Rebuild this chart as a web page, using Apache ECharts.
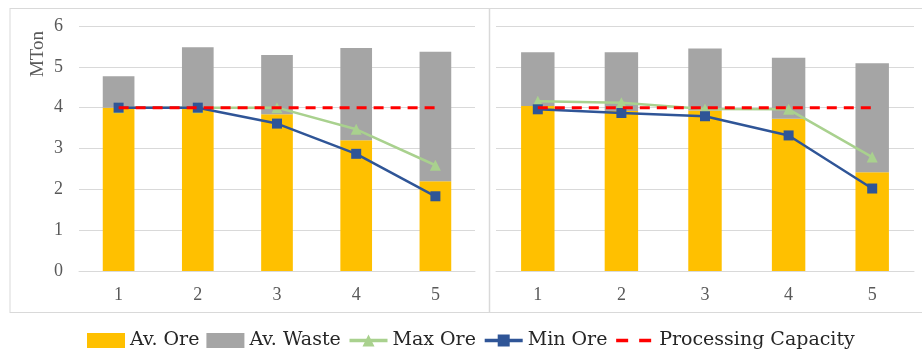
<!DOCTYPE html>
<html>
<head>
<meta charset="utf-8">
<script src="https://cdn.jsdelivr.net/npm/echarts@6/dist/echarts.min.js"></script>
<style>html,body{margin:0;padding:0;background:#fff}#c{width:922px;height:354px}</style>
</head>
<body>
<div id="c"></div>
<script>
var categories = ['1', '2', '3', '4', '5'];
var yTicks = [0, 1, 2, 3, 4, 5, 6];
var leftOre = [4.0, 4.0, 3.84, 3.2, 2.2];
var leftWaste = [0.77, 1.48, 1.45, 2.26, 3.17];
var leftMax = [4.0, 4.0, 4.0, 3.47, 2.59];
var leftMin = [4.0, 4.0, 3.61, 2.87, 1.83];
var leftCapacity = [4, 4, 4, 4, 4];
var rightOre = [4.04, 3.92, 3.93, 3.73, 2.42];
var rightWaste = [1.32, 1.44, 1.52, 1.49, 2.67];
var rightMax = [4.16, 4.12, 3.97, 3.96, 2.79];
var rightMin = [3.96, 3.87, 3.79, 3.32, 2.02];
var rightCapacity = [4, 4, 4, 4, 4];
var legendNames = ['Av. Ore', 'Av. Waste', 'Max Ore', 'Min Ore', 'Processing Capacity'];

var FONT = '"Liberation Serif", "Times New Roman", serif';
var LFONT = '"DejaVu Serif", serif';
var GRID = '#d9d9d9';
var C_ORE = '#FFC000', C_WASTE = '#A5A5A5', C_MAX = '#A9D18E', C_MIN = '#2F5597', C_CAP = '#FF0000';

function xAx(i) {
  return {
    type: 'category', gridIndex: i, data: categories,
    axisLine: { show: true, lineStyle: { color: GRID, width: 1 } },
    axisTick: { show: false },
    axisLabel: { color: '#595959', fontFamily: FONT, fontSize: 18, margin: 15 }
  };
}
function yAx(i, showLabel) {
  return {
    type: 'value', gridIndex: i, min: 0, max: 6, interval: 1,
    axisLine: { show: false }, axisTick: { show: false },
    axisLabel: { show: showLabel, color: '#595959', fontFamily: FONT, fontSize: 18, margin: 16,
      formatter: function (v) { return yTicks.indexOf(v) >= 0 ? String(v) : ''; } },
    splitLine: { lineStyle: { color: GRID, width: 1 } }
  };
}
function seriesFor(i, ore, waste, mx, mn, cap) {
  return [
    { name: 'Av. Ore', type: 'bar', stack: 's' + i, xAxisIndex: i, yAxisIndex: i, data: ore, barWidth: '40%', itemStyle: { color: C_ORE } },
    { name: 'Av. Waste', type: 'bar', stack: 's' + i, xAxisIndex: i, yAxisIndex: i, data: waste, barWidth: '40%', itemStyle: { color: C_WASTE } },
    { name: 'Max Ore', type: 'line', xAxisIndex: i, yAxisIndex: i, data: mx, symbol: 'triangle', symbolSize: 11, showSymbol: true,
      lineStyle: { color: C_MAX, width: 2.5 }, itemStyle: { color: C_MAX }, z: 3 },
    { name: 'Min Ore', type: 'line', xAxisIndex: i, yAxisIndex: i, data: mn, symbol: 'rect', symbolSize: 10,
      lineStyle: { color: C_MIN, width: 2.5 }, itemStyle: { color: C_MIN }, z: 4 },
    { name: 'Processing Capacity', type: 'line', xAxisIndex: i, yAxisIndex: i, data: cap, symbol: 'none',
      lineStyle: { color: C_CAP, width: 3, type: [10, 7] }, itemStyle: { color: C_CAP }, z: 5 }
  ];
}

var chart = echarts.init(document.getElementById('c'), null, { renderer: 'canvas' });
chart.setOption({
  animation: false,
  backgroundColor: '#fff',
  grid: [
    { left: 79, right: 447, top: 26, bottom: 83 },
    { left: 496, right: 8, top: 26, bottom: 83 }
  ],
  xAxis: [xAx(0), xAx(1)],
  yAxis: [yAx(0, true), yAx(1, false)],
  legend: {
    left: 82, top: 326, itemWidth: 38, itemHeight: 15, itemGap: 7,
    textStyle: { fontFamily: LFONT, fontSize: 19, color: '#262626' },
    data: [
      { name: legendNames[0], icon: 'rect' },
      { name: legendNames[1], icon: 'rect' },
      { name: legendNames[2], lineStyle: { width: 3.5 } },
      { name: legendNames[3], lineStyle: { width: 3.5 } },
      { name: legendNames[4], lineStyle: { width: 3.5, type: [12, 11] },
        itemStyle: { color: 'rgba(0,0,0,0)', borderColor: 'rgba(0,0,0,0)', borderWidth: 0 } }
    ]
  },
  graphic: [
    { type: 'line', shape: { x1: 10, y1: 8.5, x2: 922, y2: 8.5 }, style: { stroke: GRID, lineWidth: 1 }, silent: true },
    { type: 'line', shape: { x1: 10, y1: 312.5, x2: 922, y2: 312.5 }, style: { stroke: GRID, lineWidth: 1 }, silent: true },
    { type: 'line', shape: { x1: 10, y1: 8, x2: 10, y2: 313 }, style: { stroke: GRID, lineWidth: 1 }, silent: true },
    { type: 'line', shape: { x1: 489.5, y1: 8, x2: 489.5, y2: 313 }, style: { stroke: GRID, lineWidth: 1.5 }, silent: true },
    { type: 'text', x: 38, y: 54, rotation: Math.PI / 2,
      style: { text: 'MTon', fill: '#595959', font: '19px ' + FONT, align: 'center', verticalAlign: 'middle' } }
  ],
  series: seriesFor(0, leftOre, leftWaste, leftMax, leftMin, leftCapacity)
    .concat(seriesFor(1, rightOre, rightWaste, rightMax, rightMin, rightCapacity))
});
</script>
</body>
</html>
